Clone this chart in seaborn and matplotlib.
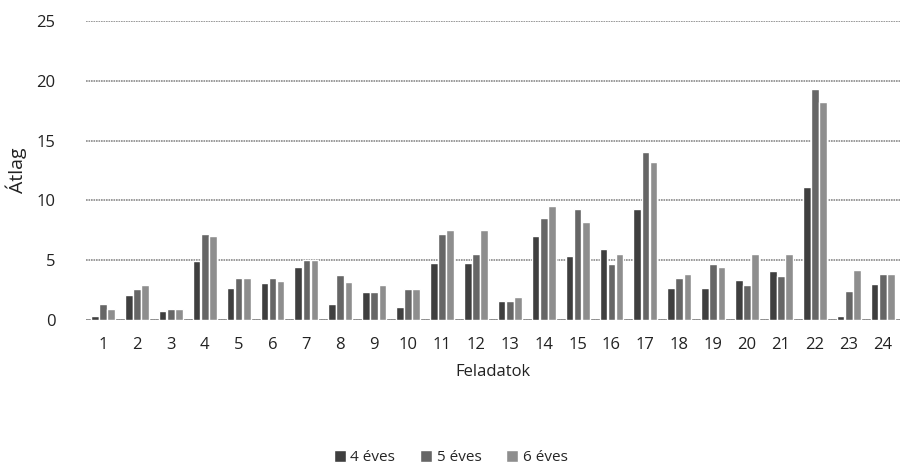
import matplotlib
matplotlib.use("Agg")
import matplotlib.pyplot as plt
import pandas as pd
import seaborn as sns

tasks = [str(i) for i in range(1, 25)]
eves4 = [0.35, 2.1, 0.75, 4.9, 2.7, 3.1, 4.4, 1.3, 2.35, 1.1, 4.75, 4.75,
         1.55, 7.0, 5.3, 5.9, 9.3, 2.7, 2.7, 3.3, 4.1, 11.1, 0.3, 3.0]
eves5 = [1.35, 2.55, 0.9, 7.15, 3.5, 3.5, 5.0, 3.75, 2.35, 2.55, 7.15, 5.55,
         1.55, 8.5, 9.3, 4.7, 14.0, 3.5, 4.7, 2.9, 3.7, 19.3, 2.4, 3.85]
eves6 = [0.95, 2.95, 0.9, 7.0, 3.5, 3.25, 5.0, 3.2, 2.95, 2.55, 7.5, 7.5,
         1.9, 9.5, 8.2, 5.5, 13.2, 3.85, 4.45, 5.5, 5.5, 18.2, 4.15, 3.85]
series_names = ["4 éves", "5 éves", "6 éves"]
colors = ["#3f3f3f", "#666666", "#8e8e8e"]

df = pd.DataFrame({
    "Feladatok": tasks * 3,
    "Átlag": eves4 + eves5 + eves6,
    "csoport": [series_names[0]] * 24 + [series_names[1]] * 24 + [series_names[2]] * 24,
})

sns.set_theme(style="white")
plt.rcParams["font.family"] = ["Open Sans", "DejaVu Sans"]

fig = plt.figure(figsize=(9.01, 4.76), dpi=100, facecolor="white")
ax = fig.add_axes([0.0955, 0.328, 0.903, 0.628])

sns.barplot(data=df, x="Feladatok", y="Átlag", hue="csoport", palette=colors,
            width=0.72, gap=0.06, ax=ax, saturation=1, legend=True)

ax.set_ylim(0, 25)
ax.set_yticks([0, 5, 10, 15, 20, 25])
ax.yaxis.grid(True, color="#8a8a8a", linewidth=1.2, linestyle=(0, (1, 0.5)))
ax.set_axisbelow(True)
for s in ax.spines.values():
    s.set_visible(False)
ax.axhline(0, color="#8a8a8a", linewidth=1.2, zorder=0)

ax.tick_params(axis="both", length=0, labelsize=12, colors="#222222")
ax.tick_params(axis="x", pad=12)
ax.tick_params(axis="y", pad=22)
ax.set_xlabel("Feladatok", fontsize=12, color="#222222", labelpad=8)
ax.set_ylabel("Átlag", fontsize=14, color="#222222")
ax.yaxis.set_label_coords(-0.072, 0.5)

ax.legend(loc="center", bbox_to_anchor=(0.5, 0.038), bbox_transform=fig.transFigure,
          ncol=3, frameon=False, fontsize=11, handlelength=0.8, handleheight=0.8,
          handletextpad=0.3, columnspacing=1.6)

fig.savefig("out.png", dpi=100, facecolor="white")
